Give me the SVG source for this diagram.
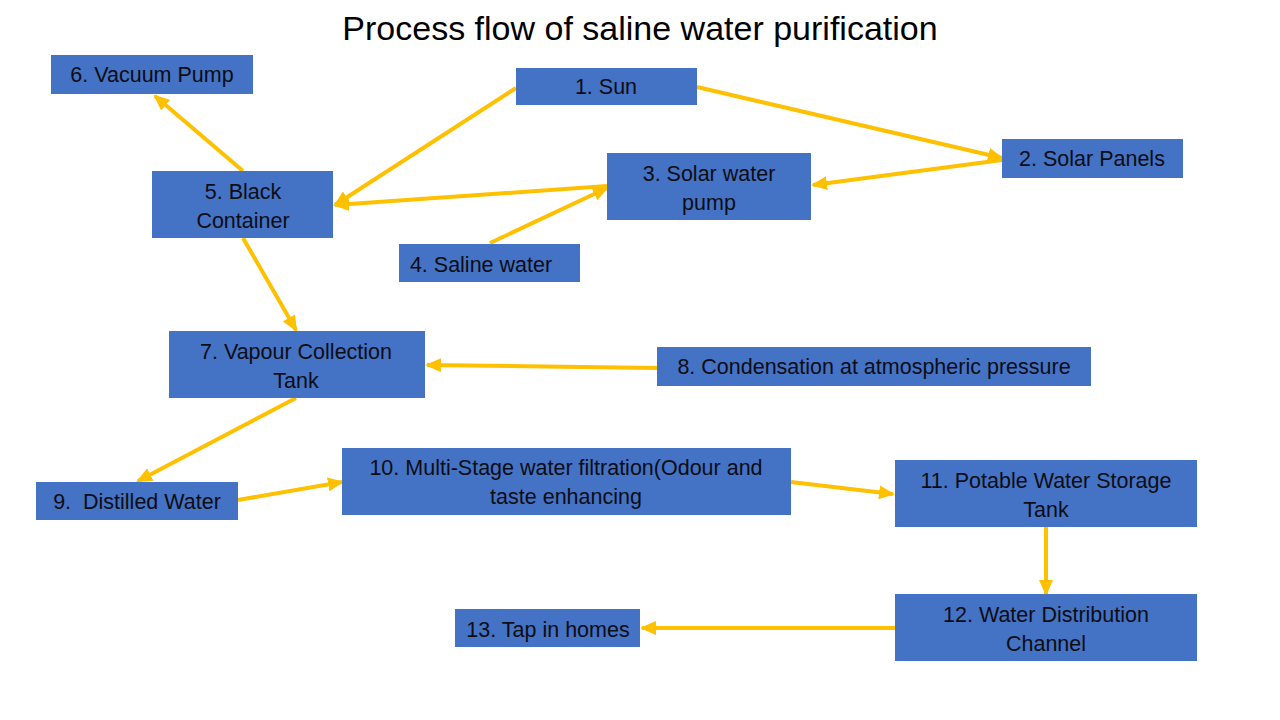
<svg xmlns="http://www.w3.org/2000/svg" width="1280" height="720" viewBox="0 0 1280 720">
<style>
.box{fill:#4472C4}
.t{font-family:"Liberation Sans",Arial,sans-serif;font-size:21.5px;fill:#0d0d14;text-anchor:middle}
.title{font-family:"Liberation Sans",Arial,sans-serif;font-size:34px;fill:#000;text-anchor:middle}
.c{stroke:#FFC000;stroke-width:4;fill:none;marker-end:url(#ah)}
</style>
<defs>
<marker id="ah" markerUnits="userSpaceOnUse" markerWidth="16" markerHeight="14" refX="14" refY="7" orient="auto">
<path d="M0,0 L16,7 L0,14 Z" fill="#FFC000"/>
</marker>
</defs>
<rect width="1280" height="720" fill="#fff"/>
<text class="title" x="640" y="40">Process flow of saline water purification</text>
<g id="connectors">
<line class="c" x1="243" y1="171" x2="155" y2="96"/>
<line class="c" x1="516" y1="88" x2="335" y2="205"/>
<line class="c" x1="607" y1="186" x2="335" y2="205"/>
<line class="c" x1="490" y1="243" x2="607" y2="188"/>
<line class="c" x1="697" y1="87" x2="1002" y2="158"/>
<line class="c" x1="1002" y1="160" x2="813" y2="185"/>
<line class="c" x1="243" y1="238" x2="296" y2="330"/>
<line class="c" x1="657" y1="368" x2="427" y2="365"/>
<line class="c" x1="296" y1="398" x2="138" y2="481"/>
<line class="c" x1="238" y1="500" x2="342" y2="482"/>
<line class="c" x1="791" y1="482" x2="893" y2="494"/>
<line class="c" x1="1046" y1="527" x2="1046" y2="594"/>
<line class="c" x1="895" y1="628" x2="642" y2="628"/>
</g>
<g id="n6"><rect class="box" x="51" y="55" width="202" height="39"/><text class="t" x="152" y="82">6. Vacuum Pump</text></g>
<g id="n1"><rect class="box" x="516" y="68" width="181" height="37"/><text class="t" x="606" y="94">1. Sun</text></g>
<g id="n2"><rect class="box" x="1002" y="139" width="181" height="39"/><text class="t" x="1092" y="166">2. Solar Panels</text></g>
<g id="n3"><rect class="box" x="607" y="153" width="204" height="67"/><text class="t" x="709" y="181">3. Solar water</text><text class="t" x="709" y="210">pump</text></g>
<g id="n5"><rect class="box" x="152" y="171" width="181" height="67"/><text class="t" x="243" y="199">5. Black</text><text class="t" x="243" y="228">Container</text></g>
<g id="n4"><rect class="box" x="399" y="244" width="181" height="38"/><text class="t" x="481" y="272">4. Saline water</text></g>
<g id="n7"><rect class="box" x="169" y="331" width="256" height="67"/><text class="t" x="296" y="359">7. Vapour Collection</text><text class="t" x="296" y="388">Tank</text></g>
<g id="n8"><rect class="box" x="657" y="347" width="434" height="39"/><text class="t" x="874" y="374">8. Condensation at atmospheric pressure</text></g>
<g id="n9"><rect class="box" x="36" y="482" width="202" height="38"/><text class="t" x="137" y="509">9.&#160; Distilled Water</text></g>
<g id="n10"><rect class="box" x="342" y="448" width="449" height="67"/><text class="t" x="566" y="475">10. Multi-Stage water filtration(Odour and</text><text class="t" x="566" y="504">taste enhancing</text></g>
<g id="n11"><rect class="box" x="895" y="460" width="302" height="67"/><text class="t" x="1046" y="488">11. Potable Water Storage</text><text class="t" x="1046" y="517">Tank</text></g>
<g id="n12"><rect class="box" x="895" y="594" width="302" height="67"/><text class="t" x="1046" y="622">12. Water Distribution</text><text class="t" x="1046" y="651">Channel</text></g>
<g id="n13"><rect class="box" x="455" y="609" width="185" height="38"/><text class="t" x="548" y="637">13. Tap in homes</text></g>
</svg>
